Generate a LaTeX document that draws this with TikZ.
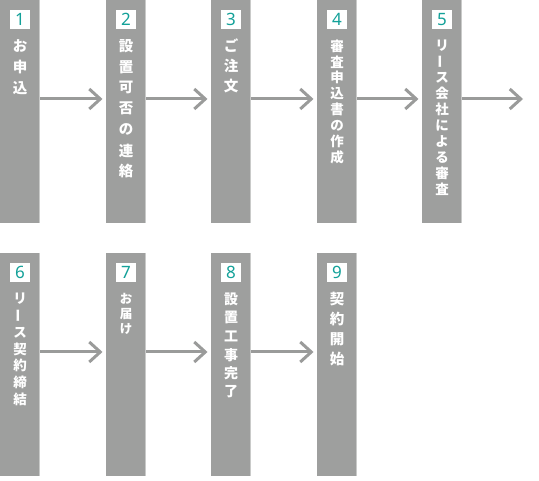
\documentclass[tikz,border=0pt]{standalone}
\usepackage{fontspec}
\newfontfamily\jpfont{Noto Sans CJK JP}
\newfontfamily\numfont{Noto Sans}
\usetikzlibrary{arrows.meta}
\definecolor{bargray}{HTML}{9E9F9E}
\definecolor{edgegray}{HTML}{C9CAC9}
\definecolor{arrowgray}{HTML}{9A9B9A}
\definecolor{numteal}{HTML}{13A199}
\newcommand\vlong{\rotatebox[origin=c]{90}{ー}}
\newcommand\flowstep[6]{%
  \node[barbox] (b#1) at (#2+20,#3+111.5) {};
  \draw[edgeline] ([xshift=-0.5pt]b#1.north east) -- ([xshift=-0.5pt]b#1.south east);
  \node[numbox] (n#1) at (#2+20,#3+19.75) {#1};
  \foreach \c [count=\i] in {#6}
    \node[steptext, font=\jpfont\bfseries\fontsize{#5}{#5}\selectfont] (t#1-\i) at (#2+20,#3+46+\i*#4-#4) {\c};
}
\begin{document}
\begin{tikzpicture}[x=1pt,y=-1pt,
  barbox/.style={fill=bargray, draw=none, minimum width=40pt, minimum height=223pt, inner sep=0pt, outer sep=0pt},
  edgeline/.style={draw=edgegray, line width=1pt},
  numbox/.style={fill=white, minimum width=19.5pt, minimum height=19.5pt, inner sep=0pt, text=numteal, font=\numfont\fontsize{17}{17}\selectfont},
  steptext/.style={text=white, inner sep=0pt},
  flowarrow/.style={draw=arrowgray, line width=3pt, -{Straight Barb[length=11pt, width=20pt, line width=3pt]}}]
\useasboundingbox (0,0) rectangle (539,481);
\flowstep{1}{0}{0}{21}{14.5}{お,申,込}
\flowstep{2}{106}{0}{20.9}{14.5}{設,置,可,否,の,連,絡}
\flowstep{3}{211}{0}{20.2}{14.5}{ご,注,文}
\flowstep{4}{317}{0}{15.9}{13.5}{審,査,申,込,書,の,作,成}
\flowstep{5}{422}{0}{15.9}{13.5}{リ,\vlong,ス,会,社,に,よ,る,審,査}
\flowstep{6}{0}{253}{16.7}{13.5}{リ,\vlong,ス,契,約,締,結}
\flowstep{7}{106}{253}{15}{12.5}{お,届,け}
\flowstep{8}{211}{253}{18.6}{14}{設,置,工,事,完,了}
\flowstep{9}{317}{253}{20}{14.5}{契,約,開,始}
\coordinate (end5) at (523,99);
\draw[flowarrow] ([yshift=12.5pt]b1.east) -- ([xshift=-3.5pt,yshift=12.5pt]b2.west);
\draw[flowarrow] ([yshift=12.5pt]b2.east) -- ([xshift=-3.5pt,yshift=12.5pt]b3.west);
\draw[flowarrow] ([yshift=12.5pt]b3.east) -- ([xshift=-3.5pt,yshift=12.5pt]b4.west);
\draw[flowarrow] ([yshift=12.5pt]b4.east) -- ([xshift=-3.5pt,yshift=12.5pt]b5.west);
\draw[flowarrow] ([yshift=12.5pt]b5.east) -- (end5);
\draw[flowarrow] ([yshift=12.5pt]b6.east) -- ([xshift=-3.5pt,yshift=12.5pt]b7.west);
\draw[flowarrow] ([yshift=12.5pt]b7.east) -- ([xshift=-3.5pt,yshift=12.5pt]b8.west);
\draw[flowarrow] ([yshift=12.5pt]b8.east) -- ([xshift=-3.5pt,yshift=12.5pt]b9.west);
\end{tikzpicture}
\end{document}
